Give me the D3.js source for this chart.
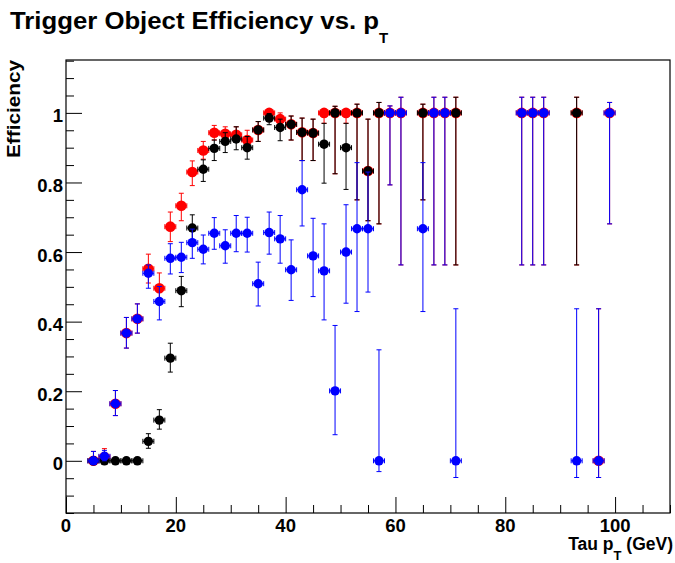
<!DOCTYPE html>
<html>
<head>
<meta charset="utf-8">
<script src="https://cdn.jsdelivr.net/npm/d3@7"></script>
<style>
  body { margin: 0; background: #fff; }
  text { font-family: "Liberation Sans", Arial, Helvetica, sans-serif; font-weight: bold; }
</style>
</head>
<body>
<div id="chart"></div>
<script>
// Bin centres (GeV), efficiency and asymmetric error band (upper / lower edge) per series
const redX = [5, 7, 9, 11, 13, 15, 17, 19, 21, 23, 25, 27, 29, 31, 33, 35, 37, 39, 41, 43, 45, 47, 49, 51, 53, 55, 57, 59, 61, 65, 67, 69, 71, 83, 85, 87, 93, 97, 99];
const redEff = [0, 0.011, 0.164, 0.367, 0.408, 0.552, 0.496, 0.673, 0.733, 0.83, 0.892, 0.943, 0.94, 0.937, 0.922, 0.951, 1, 0.982, 0.967, 0.944, 0.942, 1, 1, 1, 1, 0.833, 1, 1, 1, 1, 1, 1, 1, 1, 1, 1, 1, 0, 1];
const redHi = [0.027, 0.035, 0.202, 0.412, 0.451, 0.594, 0.54, 0.715, 0.769, 0.862, 0.918, 0.964, 0.96, 0.96, 0.95, 0.975, 1, 1, 0.991, 0.985, 0.982, 1, 1.019, 1, 1.025, 0.982, 1.03, 1.02, 1.045, 1.025, 1.045, 1.045, 1.045, 1.045, 1.045, 1.045, 1.045, 0.437, 1.03];
const redLo = [0, 0, 0.13, 0.324, 0.367, 0.511, 0.45, 0.63, 0.69, 0.791, 0.867, 0.922, 0.92, 0.916, 0.905, 0.918, 0.975, 0.955, 0.922, 0.863, 0.863, 0.97, 0.825, 0.97, 0.75, 0.69, 0.681, 0.793, 0.563, 0.75, 0.563, 0.563, 0.563, 0.563, 0.563, 0.563, 0.563, -0.048, 0.681];

const blackX = [5, 7, 9, 11, 13, 15, 17, 19, 21, 23, 25, 27, 29, 31, 33, 35, 37, 39, 41, 43, 45, 47, 49, 51, 53, 55, 57, 65, 71, 93];
const blackEff = [0, 0, 0, 0, 0, 0.056, 0.117, 0.295, 0.489, 0.669, 0.838, 0.898, 0.918, 0.925, 0.9, 0.951, 0.985, 0.958, 0.967, 0.944, 0.942, 0.91, 1, 0.9, 1, 0.833, 1, 1, 1, 1];
const blackHi = [0, 0, 0, 0, 0, 0.078, 0.147, 0.338, 0.53, 0.707, 0.865, 0.922, 0.943, 0.96, 0.932, 0.975, 0.998, 0.982, 0.991, 0.985, 0.982, 0.97, 1.019, 0.97, 1.025, 0.982, 1.03, 1.025, 1.045, 1.045];
const blackLo = [0, 0, 0, 0, 0, 0.036, 0.091, 0.255, 0.443, 0.63, 0.803, 0.863, 0.886, 0.894, 0.867, 0.918, 0.966, 0.92, 0.922, 0.863, 0.863, 0.798, 0.825, 0.78, 0.75, 0.69, 0.681, 0.75, 0.563, 0.563];

const blueX = [5, 7, 9, 11, 13, 15, 17, 19, 21, 23, 25, 27, 29, 31, 33, 35, 37, 39, 41, 43, 45, 47, 49, 51, 53, 55, 57, 59, 61, 65, 67, 69, 71, 83, 85, 87, 93, 97, 99];
const blueEff = [0, 0.013, 0.164, 0.367, 0.408, 0.539, 0.458, 0.582, 0.585, 0.627, 0.608, 0.654, 0.618, 0.654, 0.654, 0.509, 0.656, 0.638, 0.549, 0.779, 0.589, 0.546, 0.201, 0.6, 0.667, 0.667, 0, 1, 1, 0.667, 1, 1, 0, 1, 1, 1, 0, 0, 1];
const blueHi = [0.027, 0.03, 0.202, 0.412, 0.451, 0.563, 0.501, 0.624, 0.628, 0.666, 0.649, 0.699, 0.664, 0.705, 0.7, 0.571, 0.715, 0.705, 0.635, 0.863, 0.697, 0.681, 0.389, 0.736, 0.857, 0.83, 0.319, 1.02, 1.045, 0.857, 1.045, 1.045, 0.437, 1.045, 1.045, 1.045, 0.437, 0.437, 1.03];
const blueLo = [0, 0, 0.13, 0.324, 0.367, 0.496, 0.405, 0.537, 0.541, 0.582, 0.566, 0.608, 0.568, 0.601, 0.6, 0.445, 0.594, 0.568, 0.461, 0.675, 0.472, 0.405, 0.075, 0.453, 0.429, 0.485, -0.031, 0.793, 0.563, 0.429, 0.563, 0.563, -0.048, 0.563, 0.563, 0.563, -0.048, -0.048, 0.681];

const binHalf = 1; // half bin width in GeV
const xTicks = [0, 20, 40, 60, 80, 100];
const yTicks = [0, 0.2, 0.4, 0.6, 0.8, 1];

const width = 675;
const height = 563;
const frame = { left: 66, right: 670, top: 60, bottom: 513 };

const svg = d3
  .select("#chart")
  .append("svg")
  .attr("width", width)
  .attr("height", height);

const x = d3.scaleLinear().domain([0, 110]).range([frame.left, frame.right]);
const y = d3.scaleLinear().domain([-0.15, 1.152]).range([frame.bottom, frame.top]);

// Axes: ROOT-style ticks drawn inside the frame, major ones longer
const xAxis = svg
  .append("g")
  .attr("transform", `translate(0,${frame.bottom})`)
  .call(d3.axisTop(x).tickValues(d3.range(0, 111, 5)).tickSize(8).tickFormat(""));
xAxis.selectAll(".tick line")
  .attr("y2", (d) => (d % 20 === 0 ? -16 : -8));

const yAxis = svg
  .append("g")
  .attr("transform", `translate(${frame.left},0)`)
  .call(d3.axisRight(y).tickValues(d3.range(-0.15, 1.16, 0.05).map((v) => +v.toFixed(2))).tickSize(8).tickFormat(""));
yAxis.selectAll(".tick line")
  .attr("x2", (d) => (Math.abs(d / 0.2 - Math.round(d / 0.2)) < 1e-6 ? 16 : 8));

svg.selectAll(".domain").remove();
svg.selectAll(".tick line").attr("stroke", "#000").attr("stroke-width", 1);

// Frame
svg
  .append("rect")
  .attr("x", frame.left)
  .attr("y", frame.top)
  .attr("width", frame.right - frame.left)
  .attr("height", frame.bottom - frame.top)
  .attr("fill", "none")
  .attr("stroke", "#000")
  .attr("stroke-width", 1.2);

// Tick labels
svg
  .selectAll(".xlab")
  .data(xTicks)
  .join("text")
  .attr("x", (d) => x(d))
  .attr("y", 532)
  .attr("text-anchor", "middle")
  .attr("font-size", "18.5px")
  .text((d) => d);

svg
  .selectAll(".ylab")
  .data(yTicks)
  .join("text")
  .attr("x", 63)
  .attr("y", (d) => y(d) + 9.5)
  .attr("text-anchor", "end")
  .attr("font-size", "18.5px")
  .text((d) => d);

// Title
svg
  .append("text")
  .attr("x", 10)
  .attr("y", 29)
  .attr("font-size", "23px")
  .attr("textLength", 369)
  .attr("lengthAdjust", "spacingAndGlyphs")
  .text("Trigger Object Efficiency vs. p");
svg
  .append("text")
  .attr("x", 379)
  .attr("y", 42.5)
  .attr("font-size", "15px")
  .text("T");

// Axis titles
const xTitle = svg
  .append("text")
  .attr("x", 673)
  .attr("y", 550)
  .attr("text-anchor", "end")
  .attr("font-size", "17.5px");
xTitle.append("tspan").text("Tau p");
xTitle.append("tspan").attr("dy", 10).attr("font-size", "13px").text("T");
xTitle.append("tspan").attr("dy", -10).text(" (GeV)");

svg
  .append("text")
  .attr("transform", "translate(20,60) rotate(-90)")
  .attr("text-anchor", "end")
  .attr("font-size", "18px")
  .attr("textLength", 98)
  .attr("lengthAdjust", "spacingAndGlyphs")
  .text("Efficiency");

// Draw one series: error bars with end caps, then markers
function drawSeries(xs, eff, hi, lo, color, r) {
  const pts = xs.map((v, i) => ({ x: v, eff: eff[i], hi: hi[i], lo: lo[i] }));
  const g = svg.append("g").attr("stroke", color).attr("stroke-width", 1);
  const cap = 2.5;

  pts.forEach((p) => {
    const cx = x(p.x);
    const cy = y(p.eff);
    // horizontal bar (bin width)
    g.append("line").attr("x1", x(p.x - binHalf)).attr("x2", x(p.x + binHalf)).attr("y1", cy).attr("y2", cy);
    g.append("line").attr("x1", x(p.x - binHalf)).attr("x2", x(p.x - binHalf)).attr("y1", cy - cap).attr("y2", cy + cap);
    g.append("line").attr("x1", x(p.x + binHalf)).attr("x2", x(p.x + binHalf)).attr("y1", cy - cap).attr("y2", cy + cap);
    // vertical bar
    if (p.hi > p.eff) {
      g.append("line").attr("x1", cx).attr("x2", cx).attr("y1", cy).attr("y2", y(p.hi));
      g.append("line").attr("x1", cx - cap).attr("x2", cx + cap).attr("y1", y(p.hi)).attr("y2", y(p.hi));
    }
    if (p.lo < p.eff) {
      g.append("line").attr("x1", cx).attr("x2", cx).attr("y1", cy).attr("y2", y(p.lo));
      g.append("line").attr("x1", cx - cap).attr("x2", cx + cap).attr("y1", y(p.lo)).attr("y2", y(p.lo));
    }
  });

  svg
    .append("g")
    .selectAll("circle")
    .data(pts)
    .join("circle")
    .attr("cx", (d) => x(d.x))
    .attr("cy", (d) => y(d.eff))
    .attr("r", r)
    .attr("fill", color);
}

drawSeries(redX, redEff, redHi, redLo, "#ff0000", 5.3);
drawSeries(blackX, blackEff, blackHi, blackLo, "#000000", 4.7);
drawSeries(blueX, blueEff, blueHi, blueLo, "#0000ff", 4.7);
</script>
</body>
</html>
